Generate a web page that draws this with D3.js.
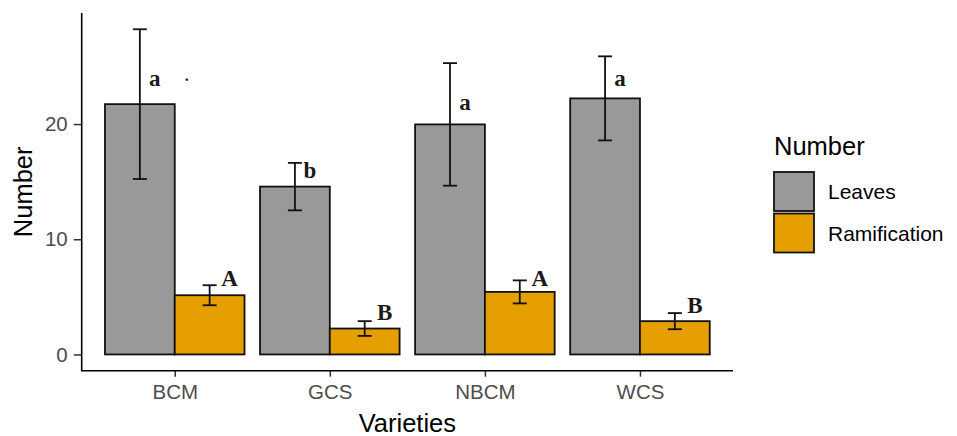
<!DOCTYPE html>
<meta charset="utf-8">

<head>
  <style>
    body {
      margin: 0;
      background: #fff;
    }

    .tick text {
      font-family: "Liberation Sans", Arial, sans-serif;
      font-size: 20.5px;
      fill: #4d4d4d;
    }

    .tick line {
      stroke: #333;
    }

    .axis-title {
      font-family: "Liberation Sans", Arial, sans-serif;
      font-size: 25.5px;
      fill: #000;
    }

    .legend-label {
      font-family: "Liberation Sans", Arial, sans-serif;
      font-size: 21px;
      fill: #000;
    }

    .sig {
      font-family: "Liberation Serif", "Times New Roman", serif;
      font-size: 23px;
      font-weight: bold;
      fill: #1a1a1a;
    }
  </style>
</head>

<body>
  <script src="https://d3js.org/d3.v7.min.js"></script>

  <div id="chart"></div>

  <script>

    var width = 957,
      height = 436;

    // values
    var varieties = ['BCM', 'GCS', 'NBCM', 'WCS'];
    var leaves = [21.73, 14.57, 19.97, 22.23];
    var leavesSe = [6.5, 2.06, 5.32, 3.65];
    var ramification = [5.14, 2.25, 5.43, 2.89];
    var ramificationSe = [0.87, 0.64, 1.0, 0.7];
    var leavesLetters = ['a', 'b', 'a', 'a'];
    var leavesLetterY = [23.3, 15.3, 21.2, 23.3];
    var ramLetters = ['A', 'B', 'A', 'B'];
    var ramLetterY = [5.92, 3.0, 5.95, 3.58];
    var seriesNames = ['Leaves', 'Ramification'];
    var seriesColors = ['#999999', '#E69F00'];
    var yTicks = [0, 10, 20];

    // panel edges (window.top is taken, so p* names)
    var pLeft = 81.7, pRight = 733, pTop = 13, pBottom = 370.7;

    var svg = d3.select('#chart')
      .append('svg')
      .attr('width', width)
      .attr('height', height);

    var x = d3.scalePoint()
      .domain(varieties)
      .range([pLeft, pRight])
      .padding(0.6);

    var barW = x.step() * 0.9 / 2;

    var ymax = d3.max(leaves.map((d, i) => d + leavesSe[i]));
    var y = d3.scaleLinear()
      .domain([-ymax * 0.05, ymax * 1.05])
      .range([pBottom, pTop]);

    // bars, one table row per variety and series
    var rows = [];
    varieties.forEach((v, i) => {
      rows.push({ v: v, s: 0, val: leaves[i], se: leavesSe[i], lab: leavesLetters[i], ly: leavesLetterY[i] });
      rows.push({ v: v, s: 1, val: ramification[i], se: ramificationSe[i], lab: ramLetters[i], ly: ramLetterY[i] });
    });
    var bx = d => x(d.v) + (d.s - 1) * barW;

    svg.selectAll('rect.bar')
      .data(rows)
      .enter()
      .append('rect')
      .attr('class', 'bar')
      .attr('x', bx)
      .attr('width', barW)
      .attr('y', d => y(d.val))
      .attr('height', d => y(0) - y(d.val))
      .attr('fill', d => seriesColors[d.s])
      .attr('stroke', '#111')
      .attr('stroke-width', 1.8);

    // error bars
    var cap = 7;
    var eb = svg.selectAll('g.err')
      .data(rows)
      .enter()
      .append('g')
      .attr('class', 'err')
      .attr('stroke', '#111')
      .attr('stroke-width', 1.8);
    eb.append('line')
      .attr('x1', d => bx(d) + barW / 2).attr('x2', d => bx(d) + barW / 2)
      .attr('y1', d => y(d.val - d.se)).attr('y2', d => y(d.val + d.se));
    eb.append('line')
      .attr('x1', d => bx(d) + barW / 2 - cap).attr('x2', d => bx(d) + barW / 2 + cap)
      .attr('y1', d => y(d.val + d.se)).attr('y2', d => y(d.val + d.se));
    eb.append('line')
      .attr('x1', d => bx(d) + barW / 2 - cap).attr('x2', d => bx(d) + barW / 2 + cap)
      .attr('y1', d => y(d.val - d.se)).attr('y2', d => y(d.val - d.se));

    // significance letters
    svg.selectAll('text.sig')
      .data(rows)
      .enter()
      .append('text')
      .attr('class', 'sig')
      .attr('x', d => bx(d) + barW / 2 + (d.s ? 20 : 15))
      .attr('y', d => y(d.ly))
      .attr('text-anchor', 'middle')
      .text(d => d.lab);

    // the stray dot next to the first label
    svg.append('text')
      .attr('class', 'sig')
      .attr('x', x('BCM') + 12)
      .attr('y', y(23.7))
      .attr('text-anchor', 'middle')
      .style('font-size', '16px')
      .text('.');

    // axes
    var xAxis = svg.append('g')
      .attr('transform', 'translate(0,' + pBottom + ')')
      .call(d3.axisBottom(x).tickSize(6).tickPadding(8));
    xAxis.select('.domain').remove();
    xAxis.selectAll('.tick line').attr('stroke-width', 1.5);

    var yAxis = svg.append('g')
      .attr('transform', 'translate(' + pLeft + ',0)')
      .call(d3.axisLeft(y).tickValues(yTicks).tickSize(8).tickPadding(6));
    yAxis.select('.domain').remove();
    yAxis.selectAll('.tick line').attr('stroke-width', 1.5);

    svg.append('path')
      .attr('d', 'M' + pLeft + ',' + pTop + 'V' + pBottom + 'H' + pRight)
      .attr('fill', 'none')
      .attr('stroke', '#000')
      .attr('stroke-width', 1.6);

    svg.append('text')
      .attr('class', 'axis-title')
      .attr('x', (pLeft + pRight) / 2)
      .attr('y', 432)
      .attr('text-anchor', 'middle')
      .text('Varieties');

    svg.append('text')
      .attr('class', 'axis-title')
      .attr('transform', 'translate(32,' + ((pTop + pBottom) / 2) + ') rotate(-90)')
      .attr('text-anchor', 'middle')
      .text('Number');

    // legend
    var lg = svg.append('g').attr('transform', 'translate(774,0)');
    lg.append('text')
      .attr('class', 'axis-title')
      .attr('x', 0)
      .attr('y', 155)
      .text('Number');
    var items = lg.selectAll('g.item')
      .data(seriesNames)
      .enter()
      .append('g')
      .attr('class', 'item')
      .attr('transform', (d, i) => 'translate(0,' + (172 + i * 41.5) + ')');
    items.append('rect')
      .attr('width', 40)
      .attr('height', 39)
      .attr('fill', (d, i) => seriesColors[i])
      .attr('stroke', '#111')
      .attr('stroke-width', 1.8);
    items.append('text')
      .attr('class', 'legend-label')
      .attr('x', 54)
      .attr('y', 27)
      .text(d => d);
  </script>
</body>
